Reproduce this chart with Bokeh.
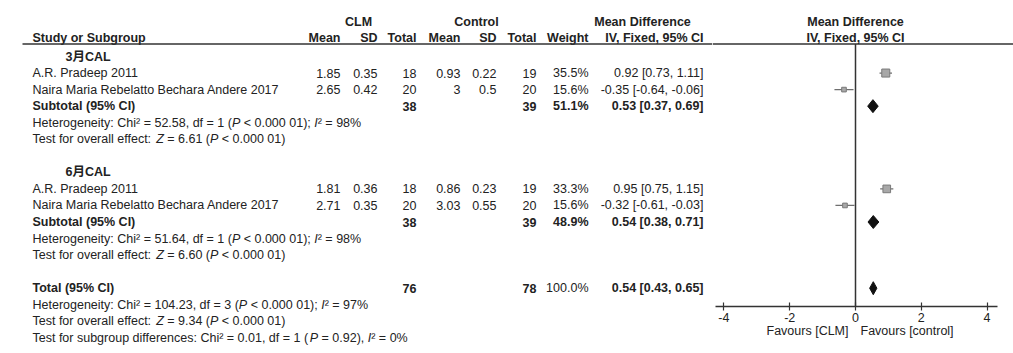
from bokeh.plotting import figure
from bokeh.models import Range1d, LinearAxis, FixedTicker, PrintfTickFormatter
from bokeh.layouts import row
from bokeh.core.properties import value
from bokeh.embed import file_html
from bokeh.resources import INLINE

# ---------------- data ----------------
groups = ["3月CAL", "6月CAL"]
studies = ["A.R. Pradeep 2011", "Naira Maria Rebelatto Bechara Andere 2017"]
clm_mean = [[1.85, 2.65], [1.81, 2.71]]
clm_sd = [[0.35, 0.42], [0.36, 0.35]]
clm_n = [[18, 20], [18, 20]]
ctl_mean = [[0.93, 3], [0.86, 3.03]]
ctl_sd = [[0.22, 0.5], [0.23, 0.55]]
ctl_n = [[19, 20], [19, 20]]
weight = [[35.5, 15.6], [33.3, 15.6]]
md = [[0.92, -0.35], [0.95, -0.32]]
md_lo = [[0.73, -0.64], [0.75, -0.61]]
md_hi = [[1.11, -0.06], [1.15, -0.03]]

sub_clm_n = [38, 38]
sub_ctl_n = [39, 39]
sub_weight = [51.1, 48.9]
sub_md = [0.53, 0.54]
sub_lo = [0.37, 0.38]
sub_hi = [0.69, 0.71]
sub_chi2 = ["52.58", "51.64"]
sub_df = [1, 1]
sub_i2 = [98, 98]
sub_z = ["6.61", "6.60"]

total_clm_n = 76
total_ctl_n = 78
total_weight = 100.0
total_md, total_lo, total_hi = 0.54, 0.43, 0.65
total_chi2, total_df, total_i2, total_z = "104.23", 3, 97, "9.34"
diff_chi2, diff_df, diff_p, diff_i2 = "0.01", 1, "0.92", 0

x_ticks = [-4, -2, 0, 2, 4]
axis_bounds = (-4.27, 4.32)
favours = ["Favours [CLM]", "Favours [control]"]

# ---------------- layout constants ----------------
H = 353
WL, WR = 712, 301
Y0, DY = 56.0, 16.55          # pixel of row 0, row pitch
ZERO_PX, UNIT_PX = 855.0, 32.9
AX_PX = 306
FS = 12.5
FONT = "Liberation Sans"
CJK = "Liberation Sans, Noto Sans CJK SC"
TXT = "#222222"
LINE = "#333333"


def r_of(px):
    return (px - Y0) / DY


R_H1, R_H2, R_UL = r_of(21), r_of(37.5), r_of(43.5)
COL = dict(study=32, head=65, clm_mean=340, clm_sd=377, clm_n=416,
           ctl_mean=460, ctl_sd=496, ctl_n=536, weight=588, ci=703)

AW = {' ': 278, ':': 278, ';': 278, ',': 278, '.': 278, '(': 333, ')': 333,
      '=': 584, '<': 584, '%': 889, '²': 333, 'C': 722, 'H': 722, 'I': 278,
      'P': 667, 'T': 611, 'Z': 611, 'a': 556, 'b': 556, 'c': 500, 'd': 556,
      'e': 556, 'f': 278, 'g': 556, 'h': 556, 'i': 222, 'l': 222, 'n': 556,
      'o': 556, 'p': 556, 'r': 333, 's': 500, 't': 278, 'u': 556, 'v': 500,
      'y': 500}


def tw(s):
    return sum(AW.get(c, 556) for c in s) * FS / 1000.0


texts = {}


def add(x, r, t, align="right", style="normal", font=FONT):
    texts.setdefault((align, style, font), {"x": [], "y": [], "t": []})
    d = texts[(align, style, font)]
    d["x"].append(x)
    d["y"].append(r)
    d["t"].append(t)


def segs(x, r, parts):
    for t, st in parts:
        lead = len(t) - len(t.lstrip(" "))
        x += tw(t[:lead])
        body = t.strip(" ")
        if body:
            add(x, r, body, "left", st)
        x += tw(t[lead:])


def ci(m, lo, hi):
    return f"{m:.2f} [{lo:.2f}, {hi:.2f}]"


# header
add(358, R_H1, "CLM", "center", "bold")
add(476, R_H1, "Control", "center", "bold")
add(642, R_H1, "Mean Difference", "center", "bold")
add(COL["study"], R_H2, "Study or Subgroup", "left", "bold")
for k, lab in [("clm_mean", "Mean"), ("clm_sd", "SD"), ("clm_n", "Total"),
               ("ctl_mean", "Mean"), ("ctl_sd", "SD"), ("ctl_n", "Total"),
               ("weight", "Weight"), ("ci", "IV, Fixed, 95% CI")]:
    add(COL[k], R_H2, lab, "right", "bold")

study_rows, sub_rows = [], []
for g in range(len(groups)):
    base = g * 7
    add(COL["head"], base, groups[g], "left", "bold", CJK)
    for i in range(len(studies)):
        r = base + 1 + i
        study_rows.append((g, i, r))
        add(COL["study"], r, studies[i], "left")
        add(COL["clm_mean"], r, f"{clm_mean[g][i]:g}")
        add(COL["clm_sd"], r, f"{clm_sd[g][i]:g}")
        add(COL["clm_n"], r, f"{clm_n[g][i]}")
        add(COL["ctl_mean"], r, f"{ctl_mean[g][i]:g}")
        add(COL["ctl_sd"], r, f"{ctl_sd[g][i]:g}")
        add(COL["ctl_n"], r, f"{ctl_n[g][i]}")
        add(COL["weight"], r, f"{weight[g][i]:.1f}%")
        add(COL["ci"], r, ci(md[g][i], md_lo[g][i], md_hi[g][i]))
    r = base + 3
    sub_rows.append(r)
    add(COL["study"], r, "Subtotal (95% CI)", "left", "bold")
    add(COL["clm_n"], r, f"{sub_clm_n[g]}", "right", "bold")
    add(COL["ctl_n"], r, f"{sub_ctl_n[g]}", "right", "bold")
    add(COL["weight"], r, f"{sub_weight[g]:.1f}%", "right", "bold")
    add(COL["ci"], r, ci(sub_md[g], sub_lo[g], sub_hi[g]), "right", "bold")
    segs(COL["study"], base + 4,
         [(f"Heterogeneity: Chi² = {sub_chi2[g]}, df = {sub_df[g]} (", "normal"),
          ("P", "italic"), (" < 0.000 01); ", "normal"), ("I", "italic"),
          (f"² = {sub_i2[g]}%", "normal")])
    segs(COL["study"], base + 5,
         [("Test for overall effect: ", "normal"), ("Z", "italic"),
          (f" = {sub_z[g]} (", "normal"), ("P", "italic"), (" < 0.000 01)", "normal")])

R_TOT = 14
add(COL["study"], R_TOT, "Total (95% CI)", "left", "bold")
add(COL["clm_n"], R_TOT, f"{total_clm_n}", "right", "bold")
add(COL["ctl_n"], R_TOT, f"{total_ctl_n}", "right", "bold")
add(COL["weight"], R_TOT, f"{total_weight:.1f}%", "right", "normal")
add(COL["ci"], R_TOT, ci(total_md, total_lo, total_hi), "right", "bold")
segs(COL["study"], 15,
     [(f"Heterogeneity: Chi² = {total_chi2}, df = {total_df} (", "normal"),
      ("P", "italic"), (" < 0.000 01); ", "normal"), ("I", "italic"),
      (f"² = {total_i2}%", "normal")])
segs(COL["study"], 16,
     [("Test for overall effect: ", "normal"), ("Z", "italic"),
      (f" = {total_z} (", "normal"), ("P", "italic"), (" < 0.000 01)", "normal")])
segs(COL["study"], 17,
     [(f"Test for subgroup differences: Chi² = {diff_chi2}, df = {diff_df} (", "normal"),
      ("P", "italic"), (f" = {diff_p}), ", "normal"), ("I", "italic"),
      (f"² = {diff_i2}%", "normal")])

# ---------------- left (table) figure ----------------
p1 = figure(width=WL, height=H, x_range=Range1d(0, WL),
            y_range=Range1d(r_of(H), r_of(0)),
            x_axis_type=None, y_axis_type=None, toolbar_location=None,
            output_backend="svg", min_border=0, outline_line_color=None,
            background_fill_color="white", border_fill_color="white")
p1.grid.visible = False
for (align, style, font), d in texts.items():
    p1.text(x=d["x"], y=d["y"], text=d["t"], text_align=align,
            text_baseline="middle", text_font=value(font),
            text_font_style=style, text_font_size=f"{FS}px", text_color=TXT)
p1.segment(x0=[22], y0=[R_UL], x1=[WL], y1=[R_UL], line_color=LINE, line_width=1.5)

# ---------------- right (forest) figure ----------------
xr = Range1d((WL - ZERO_PX) / UNIT_PX, (WL + WR - ZERO_PX) / UNIT_PX)
p2 = figure(width=WR, height=H, x_range=xr,
            y_range=Range1d(r_of(H), r_of(0)),
            x_axis_type=None, y_axis_type=None, toolbar_location=None,
            output_backend="svg", min_border=0,
            outline_line_color=None,
            background_fill_color="white", border_fill_color="white")
p2.grid.visible = False

p2.segment(x0=[xr.start], y0=[R_UL], x1=[xr.end], y1=[R_UL], line_color=LINE, line_width=1.5)
p2.segment(x0=[0], y0=[R_UL], x1=[0], y1=[r_of(AX_PX)], line_color=LINE, line_width=1.5)
p2.text(x=[0, 0], y=[R_H1, R_H2], text=["Mean Difference", "IV, Fixed, 95% CI"],
        text_align="center", text_baseline="middle", text_font=value(FONT),
        text_font_style="bold", text_font_size=f"{FS}px", text_color=TXT)

sx = [md[g][i] for g, i, r in study_rows]
sy = [r for g, i, r in study_rows]
slo = [md_lo[g][i] for g, i, r in study_rows]
shi = [md_hi[g][i] for g, i, r in study_rows]
ssz = [2.0 + 0.17 * weight[g][i] for g, i, r in study_rows]
p2.segment(x0=slo, y0=sy, x1=shi, y1=sy, line_color="#6f6f6f", line_width=1.2)
p2.scatter(x=sx, y=sy, marker="square", size=ssz, fill_color="#a8a8a8",
           line_color="#7a7a7a", line_width=1)

dm = sub_md + [total_md]
dlo = sub_lo + [total_lo]
dhi = sub_hi + [total_hi]
dr = sub_rows + [R_TOT]
hh = 6.5 / DY
p2.patches(xs=[[lo, m, hi, m] for m, lo, hi in zip(dm, dlo, dhi)],
           ys=[[r, r - hh, r, r + hh] for r in dr],
           fill_color="#111111", line_color="#111111", line_width=1)

ax = LinearAxis(ticker=FixedTicker(ticks=x_ticks), bounds=axis_bounds,
                formatter=PrintfTickFormatter(format="%d"),
                fixed_location=r_of(AX_PX))
ax.axis_line_color = LINE
ax.axis_line_width = 1.5
ax.major_tick_line_color = LINE
ax.major_tick_line_width = 1.2
ax.major_tick_in = 4
ax.major_tick_out = 4
ax.minor_tick_in = 0
ax.minor_tick_out = 0
ax.major_label_standoff = 2
ax.major_label_text_font = FONT
ax.major_label_text_font_size = f"{FS}px"
ax.major_label_text_color = TXT
p2.add_layout(ax, "below")

p2.text(x=[(848 - ZERO_PX) / UNIT_PX, (860 - ZERO_PX) / UNIT_PX],
        y=[r_of(330), r_of(330)], text=favours, text_align=["right", "left"],
        text_baseline="middle", text_font=value(FONT), text_font_size=f"{FS}px",
        text_color=TXT)

layout = row(p1, p2, spacing=0)
open("out.html", "w").write(file_html(layout, INLINE))
